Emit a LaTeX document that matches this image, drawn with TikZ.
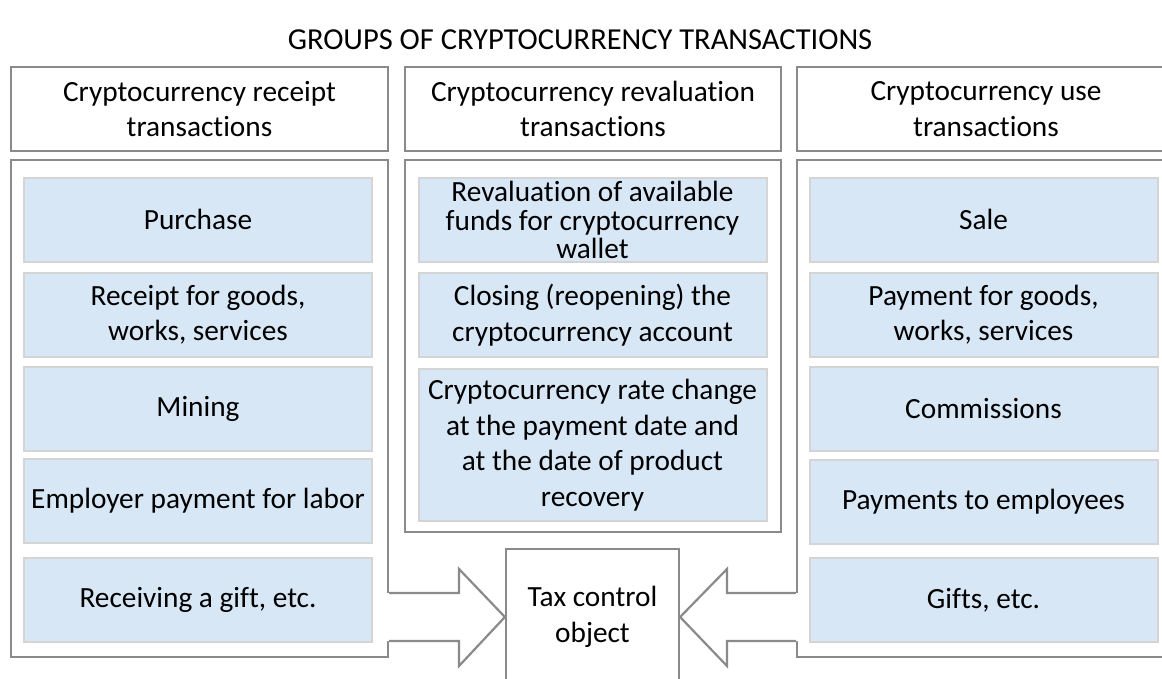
\documentclass[tikz,border=0pt]{standalone}
\usepackage{fontspec}
\setmainfont{Carlito}[Ligatures=NoCommon]
\definecolor{framegray}{RGB}{138,138,138}
\definecolor{itemgray}{RGB}{212,212,212}
\definecolor{itemblue}{RGB}{216,231,246}
\tikzset{
  frame/.style={draw=framegray, line width=2.2pt},
  headbox/.style={frame, minimum height=84pt, inner sep=0pt, align=center},
  groupbox/.style={frame, inner sep=0pt},
  itembox/.style={draw=itemgray, line width=2pt, fill=itemblue, minimum width=348pt, minimum height=84pt, inner sep=0pt, align=center},
}
\begin{document}
\begin{tikzpicture}[x=1pt, y=-1pt, font=\fontsize{29.3}{35.5}\selectfont]
    \useasboundingbox (0,0) rectangle (1162,678);
    \clip (0,0) rectangle (1162,678);
    \fill[white] (0,0) rectangle (1162,678);
    % title
    \node[font=\fontsize{30.5}{36}\selectfont] (title) at (580,40) {GROUPS OF CRYPTOCURRENCY TRANSACTIONS};
    % group headers
    \node[headbox, minimum width=377pt] (headin) at (199.5,109) {Cryptocurrency receipt\\transactions};
    \node[headbox, minimum width=376pt] (headrev) at (593,109) {Cryptocurrency revaluation\\transactions};
    \node[headbox, minimum width=378pt] (headout) at (986,109) {Cryptocurrency use\\transactions};
    % group bodies
    \node[groupbox, minimum width=377pt, minimum height=497pt] (bodyin) at (199.5,408.5) {};
    \node[groupbox, minimum width=376pt, minimum height=372pt] (bodyrev) at (593,346) {};
    \node[groupbox, minimum width=378pt, minimum height=497pt] (bodyout) at (986,408.5) {};
    % receipt
    \node[itembox] (purchase) at (198,219.5) {Purchase};
    \node[itembox] (goodsin) at (198,314.5) {Receipt for goods,\\works, services};
    \node[itembox] (mining) at (198,409) {Mining};
    \node[itembox] (labor) at (198,501) {Employer payment for labor};
    \node[itembox] (giftin) at (198,600) {Receiving a gift, etc.};
    % revaluation
    \node[itembox, font=\fontsize{29.3}{28.5}\selectfont] (funds) at (592.5,220) {Revaluation of available\\funds for cryptocurrency\\wallet};
    \node[itembox] (closing) at (592.5,315) {Closing (reopening) the\\cryptocurrency account};
    \node[itembox, minimum height=152pt] (rate) at (592.5,445) {Cryptocurrency rate change\\at the payment date and\\at the date of product\\recovery};
    % use
    \node[itembox] (sale) at (983.5,219.5) {Sale};
    \node[itembox] (goodsout) at (983.5,314.5) {Payment for goods,\\works, services};
    \node[itembox] (commis) at (983.5,409) {Commissions};
    \node[itembox] (staff) at (983.5,502) {Payments to employees};
    \node[itembox] (giftout) at (983.5,600) {Gifts, etc.};
    % tax control object
    \node[frame, minimum width=173pt, minimum height=136pt, inner sep=0pt, align=center] (tax) at (592.5,617) {Tax control\\object};
    % block arrows
    \fill[white] (385,593) -- (459,593) -- (459,569) -- (tax.west) -- (459,666) -- (459,641) -- (385,641) -- cycle;
    \draw[frame, line join=miter] (bodyin.east |- 0,593) -- (459,593) -- (459,569) -- (tax.west) -- (459,666) -- (459,641) -- (bodyin.east |- 0,641);
    \fill[white] (800,593) -- (727,593) -- (727,569) -- (tax.east) -- (727,666) -- (727,641) -- (800,641) -- cycle;
    \draw[frame, line join=miter] (bodyout.west |- 0,593) -- (727,593) -- (727,569) -- (tax.east) -- (727,666) -- (727,641) -- (bodyout.west |- 0,641);
\end{tikzpicture}
\end{document}
